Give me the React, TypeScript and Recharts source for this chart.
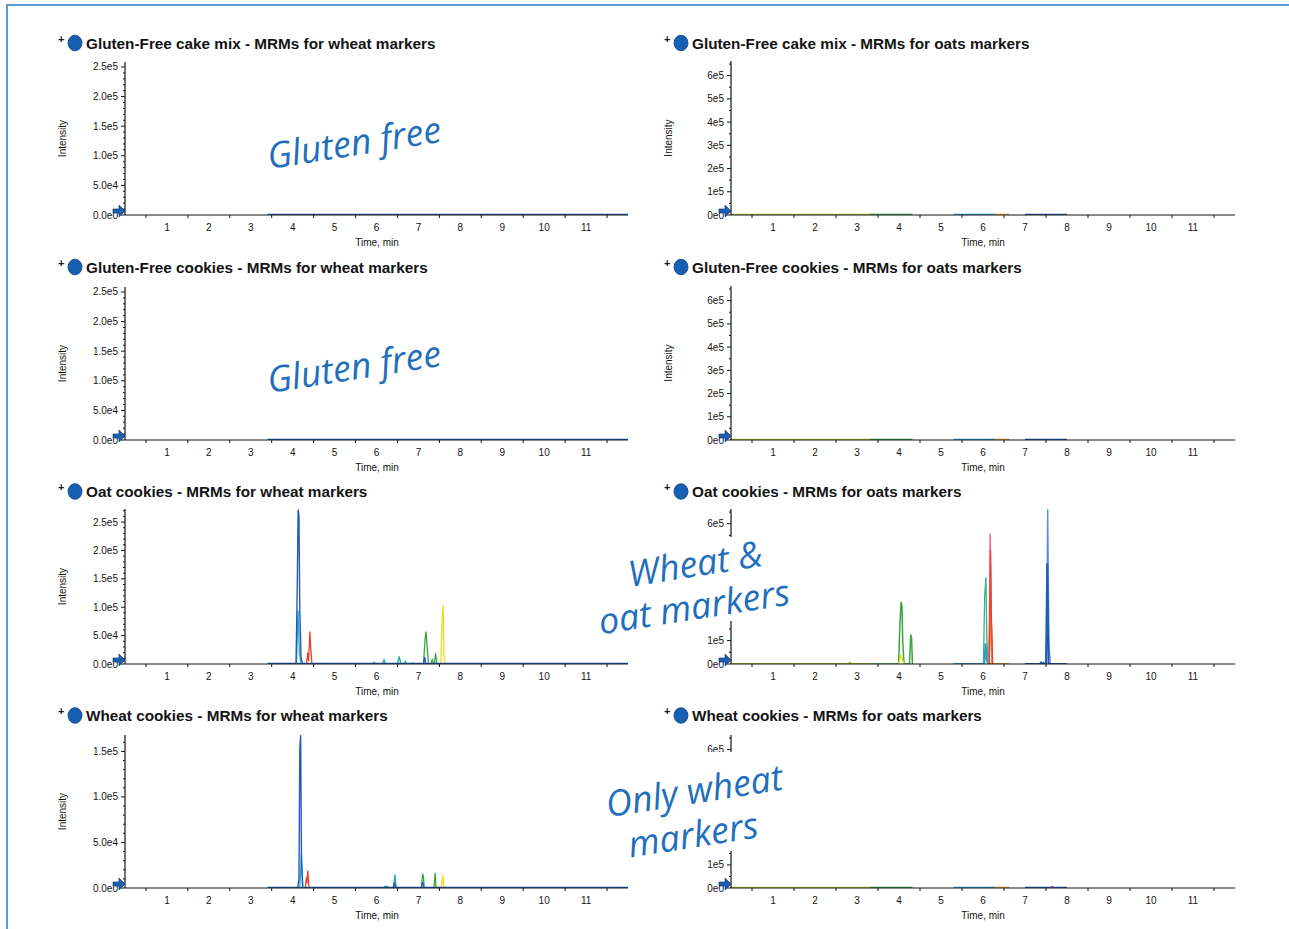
import React from 'react';
import { LineChart, Line, XAxis, YAxis } from 'recharts';

// ---------------- axis ticks & labels ----------------
const TIME_TICKS = [0.5, 1, 1.5, 2, 2.5, 3, 3.5, 4, 4.5, 5, 5.5, 6, 6.5, 7, 7.5, 8, 8.5, 9, 9.5, 10, 10.5, 11, 11.5];
const TIME_LABELS = [1, 2, 3, 4, 5, 6, 7, 8, 9, 10, 11];
const WHEAT_Y_TICKS = [0, 50000, 100000, 150000, 200000, 250000];
const WHEAT_Y_LABELS = ['0.0e0', '5.0e4', '1.0e5', '1.5e5', '2.0e5', '2.5e5'];
const WHEAT_COOKIE_Y_TICKS = [0, 50000, 100000, 150000];
const WHEAT_COOKIE_Y_LABELS = ['0.0e0', '5.0e4', '1.0e5', '1.5e5'];
const OATS_Y_TICKS = [0, 100000, 200000, 300000, 400000, 500000, 600000];
const OATS_Y_LABELS = ['0e0', '1e5', '2e5', '3e5', '4e5', '5e5', '6e5'];

// ---------------- traces: [time (min), intensity] ----------------
const WHEAT_BASELINE = [[3.4, 0], [12, 0]];

const OATS_BASE_LIME = [[0, 0], [3.3, 0]];
const OATS_BASE_GREEN = [[3.3, 0], [4.32, 0]];
const OATS_BASE_SKY = [[5.3, 0], [6.3, 0]];
const OATS_BASE_ORANGE = [[6.3, 0], [6.62, 0]];
const OATS_BASE_BLUE = [[7.0, 0], [8.0, 0]];

// Oat cookies - wheat markers
const E_BLUE_MAIN = [[4.08, 0], [4.11, 138000], [4.13, 272000], [4.15, 262000], [4.17, 96000], [4.2, 10000], [4.24, 0]];
const E_CYAN = [[4.09, 0], [4.13, 94000], [4.16, 20000], [4.2, 0]];
const E_RED = [[4.33, 0], [4.36, 20000], [4.38, 5000], [4.41, 57000], [4.43, 30000], [4.46, 0]];
const E_TEAL = [[5.9, 0], [5.94, 3000], [5.98, 0], [6.14, 0], [6.18, 7600], [6.22, 0], [6.5, 0], [6.54, 13500], [6.58, 0], [6.66, 0], [6.69, 4700], [6.73, 0], [6.84, 0], [6.87, 2000], [6.9, 0]];
const E_GREEN = [[7.12, 0], [7.16, 44000], [7.18, 57000], [7.21, 30000], [7.24, 0], [7.3, 0], [7.33, 8800], [7.36, 0], [7.38, 0], [7.41, 19000], [7.44, 0]];
const E_BLUE_SMALL = [[7.12, 0], [7.15, 12000], [7.18, 0]];
const E_YELLOW = [[7.53, 0], [7.57, 85000], [7.59, 104000], [7.61, 10000], [7.64, 0]];

// Oat cookies - oats markers
const F_LIME = [[0, 0], [2.79, 0], [2.83, 6000], [2.87, 0], [3.3, 0]];
const F_GREEN = [[3.3, 0], [3.99, 0], [4.02, 160000], [4.04, 232000], [4.05, 266000], [4.07, 250000], [4.09, 90000], [4.12, 0], [4.25, 0], [4.28, 126000], [4.3, 110000], [4.32, 0]];
const F_YELLOW = [[3.99, 0], [4.04, 36000], [4.08, 20000], [4.12, 0]];
const F_SKY = [[5.3, 0], [6.03, 0], [6.06, 88000], [6.09, 20000], [6.12, 0], [6.3, 0]];
const F_TEALGREEN = [[6.01, 0], [6.04, 290000], [6.07, 371000], [6.09, 120000], [6.12, 0]];
const F_ORANGE = [[6.14, 0], [6.18, 270000], [6.22, 0], [6.3, 0], [6.62, 0]];
const F_RED = [[6.15, 0], [6.18, 486000], [6.2, 180000], [6.23, 0]];
const F_PINK = [[6.14, 0], [6.17, 558000], [6.19, 300000], [6.22, 0]];
const F_BLUE = [[7.0, 0], [7.35, 0], [7.38, 6000], [7.41, 0], [7.44, 5000], [7.47, 0], [7.5, 0], [7.53, 431000], [7.56, 0], [8.0, 0]];
const F_STEEL = [[7.51, 0], [7.54, 662000], [7.57, 95000], [7.6, 0]];

// Wheat cookies - wheat markers
const G_BLUE_MAIN = [[4.12, 0], [4.15, 10000], [4.17, 151000], [4.19, 168000], [4.21, 30000], [4.24, 0]];
const G_CYAN = [[4.17, 0], [4.21, 38000], [4.24, 0]];
const G_RED = [[4.3, 0], [4.33, 12000], [4.34, 5000], [4.36, 19300], [4.39, 0]];
const G_TEAL = [[6.18, 0], [6.2, 1800], [6.26, 1800], [6.28, 0], [6.4, 0], [6.44, 14600], [6.47, 0]];
const G_BLUE_SMALL = [[6.4, 0], [6.43, 5800], [6.46, 0], [7.06, 0], [7.1, 6600], [7.13, 0]];
const G_GREEN = [[7.07, 0], [7.1, 15700], [7.12, 12000], [7.14, 0], [7.37, 0], [7.4, 16800], [7.42, 0]];
const G_YELLOW = [[7.55, 0], [7.58, 13900], [7.61, 0]];

// Wheat cookies - oats markers
const H_PURPLE = [[7.6, 0], [7.65, 7000], [7.7, 0]];

// ---------------- styling ----------------
const COLORS = {
  blue: '#1f5cb8', steel: '#5b8fd4', cyan: '#2aa8d0', teal: '#1faea0', green: '#37a840',
  tealGreen: '#3bb07e', red: '#e8412c', pink: '#ee5f8c', orange: '#f4a12a', yellow: '#f0dc16',
  lime: '#a9c92a', sky: '#2a9ad8', purple: '#7b4fb0',
};
const FONT = "'Liberation Sans', Arial, sans-serif";
const INK = '#141414';

type Trace = { data: number[][]; color: string; w: number };

const oatsBases: Trace[] = [
  { data: OATS_BASE_LIME, color: COLORS.lime, w: 2.6 },
  { data: OATS_BASE_GREEN, color: COLORS.green, w: 2.6 },
  { data: OATS_BASE_SKY, color: COLORS.sky, w: 2.6 },
  { data: OATS_BASE_ORANGE, color: COLORS.orange, w: 2.6 },
  { data: OATS_BASE_BLUE, color: COLORS.blue, w: 2.6 },
];
const wheatBase: Trace = { data: WHEAT_BASELINE, color: COLORS.blue, w: 2.6 };

type Panel = {
  title: string; col: number; row: number; yMax: number;
  yTicks: number[]; yLabels: string[]; minorStep: number; traces: Trace[];
};

const PANELS: Panel[] = [
  { title: 'Gluten-Free cake mix - MRMs for wheat markers', col: 0, row: 0, yMax: 258400, yTicks: WHEAT_Y_TICKS, yLabels: WHEAT_Y_LABELS, minorStep: 10000, traces: [wheatBase] },
  { title: 'Gluten-Free cake mix - MRMs for oats markers', col: 1, row: 0, yMax: 663000, yTicks: OATS_Y_TICKS, yLabels: OATS_Y_LABELS, minorStep: 50000, traces: oatsBases },
  { title: 'Gluten-Free cookies - MRMs for wheat markers', col: 0, row: 1, yMax: 258400, yTicks: WHEAT_Y_TICKS, yLabels: WHEAT_Y_LABELS, minorStep: 10000, traces: [wheatBase] },
  { title: 'Gluten-Free cookies - MRMs for oats markers', col: 1, row: 1, yMax: 663000, yTicks: OATS_Y_TICKS, yLabels: OATS_Y_LABELS, minorStep: 50000, traces: oatsBases },
  {
    title: 'Oat cookies - MRMs for wheat markers', col: 0, row: 2, yMax: 273000, yTicks: WHEAT_Y_TICKS, yLabels: WHEAT_Y_LABELS, minorStep: 10000,
    traces: [
      { data: E_TEAL, color: COLORS.teal, w: 1.3 },
      { data: E_GREEN, color: COLORS.green, w: 1.3 },
      { data: E_YELLOW, color: COLORS.yellow, w: 1.3 },
      { data: E_RED, color: COLORS.red, w: 1.3 },
      wheatBase,
      { data: E_BLUE_SMALL, color: COLORS.blue, w: 1.3 },
      { data: E_CYAN, color: COLORS.cyan, w: 1.3 },
      { data: E_BLUE_MAIN, color: COLORS.blue, w: 1.4 },
    ],
  },
  {
    title: 'Oat cookies - MRMs for oats markers', col: 1, row: 2, yMax: 663000, yTicks: OATS_Y_TICKS, yLabels: OATS_Y_LABELS, minorStep: 50000,
    traces: [
      { data: F_LIME, color: COLORS.lime, w: 2.2 },
      { data: F_GREEN, color: COLORS.green, w: 1.5 },
      { data: F_YELLOW, color: COLORS.yellow, w: 1.3 },
      { data: F_SKY, color: COLORS.sky, w: 2 },
      { data: F_TEALGREEN, color: COLORS.tealGreen, w: 1.3 },
      { data: F_ORANGE, color: COLORS.orange, w: 2 },
      { data: F_PINK, color: COLORS.pink, w: 1.3 },
      { data: F_RED, color: COLORS.red, w: 1.3 },
      { data: F_STEEL, color: COLORS.steel, w: 1.4 },
      { data: F_BLUE, color: COLORS.blue, w: 2 },
    ],
  },
  {
    title: 'Wheat cookies - MRMs for wheat markers', col: 0, row: 3, yMax: 168000, yTicks: WHEAT_COOKIE_Y_TICKS, yLabels: WHEAT_COOKIE_Y_LABELS, minorStep: 10000,
    traces: [
      { data: G_TEAL, color: COLORS.teal, w: 1.3 },
      { data: G_GREEN, color: COLORS.green, w: 1.3 },
      { data: G_YELLOW, color: COLORS.yellow, w: 1.3 },
      { data: G_RED, color: COLORS.red, w: 1.3 },
      wheatBase,
      { data: G_BLUE_SMALL, color: COLORS.blue, w: 1.3 },
      { data: G_CYAN, color: COLORS.cyan, w: 1.3 },
      { data: G_BLUE_MAIN, color: COLORS.blue, w: 1.4 },
    ],
  },
  {
    title: 'Wheat cookies - MRMs for oats markers', col: 1, row: 3, yMax: 663000, yTicks: OATS_Y_TICKS, yLabels: OATS_Y_LABELS, minorStep: 50000,
    traces: [...oatsBases, { data: H_PURPLE, color: COLORS.purple, w: 1.3 }],
  },
];

// ---------------- layout ----------------
const AXIS_X = [125, 731];
const PLOT_W = [503, 504];
const PLOT_ROWS = [
  [[62, 215], [287, 440], [509, 664], [735, 888]],
  [[61, 215], [286, 440], [509, 664], [735, 888]],
];
const TITLE_BASE = [48.5, 272.5, 497, 721];
const TITLE_X = [86, 692];
const Y_AXIS_W = 70;
const X_AXIS_H = 40;

const minorTicks = (step: number, max: number) => {
  const out: number[] = [];
  for (let k = 0; k * step <= max; k++) out.push(k * step);
  return out;
};

const toPoints = (arr: number[][]) => arr.map(([t, v]) => ({ t, v }));

const XTick = (props: any) => {
  const { x, y, payload } = props;
  const v = payload.value;
  const major = TIME_LABELS.includes(v);
  return (
    <g>
      {!major && <line x1={x} x2={x} y1={y} y2={y + 3} stroke={INK} strokeWidth={1} />}
      {major && (
        <text x={x} y={y + 15.5} textAnchor="middle" fontSize={10} fontFamily={FONT} fill={INK}>{v}</text>
      )}
    </g>
  );
};

const makeYTick = (majors: number[], labels: string[]) => (props: any) => {
  const { x, y, payload } = props;
  const idx = majors.indexOf(payload.value);
  const major = idx >= 0;
  return (
    <g>
      <line x1={x - (major ? 4 : 2)} x2={x} y1={y} y2={y} stroke={INK} strokeWidth={1} />
      {major && (
        <text x={x - 7} y={y + 3.5} textAnchor="end" fontSize={10} fontFamily={FONT} fill={INK}>{labels[idx]}</text>
      )}
    </g>
  );
};

function ChartPanel({ p }: { p: Panel }) {
  const axisX = AXIS_X[p.col];
  const plotW = PLOT_W[p.col];
  const [top, bottom] = PLOT_ROWS[p.col][p.row];
  const w = Y_AXIS_W + plotW;
  const h = bottom - top + X_AXIS_H;
  const yTicks = minorTicks(p.minorStep, p.yMax);
  return (
    <div style={{ position: 'absolute', left: axisX - Y_AXIS_W, top, width: w, height: h }}>
      <LineChart width={w} height={h} margin={{ top: 0, right: 0, bottom: 0, left: 0 }}>
        <XAxis
          dataKey="t" type="number" domain={[0, 12]} ticks={TIME_TICKS} interval={0}
          tickSize={0} tickMargin={0} tickLine={false} tick={(tp: any) => <XTick {...tp} />}
          axisLine={{ stroke: INK, strokeWidth: 1.2 }} height={X_AXIS_H} allowDataOverflow
        />
        <YAxis
          type="number" domain={[0, p.yMax]} ticks={yTicks} interval={0} width={Y_AXIS_W}
          tickSize={0} tickMargin={0} tickLine={false} tick={makeYTick(p.yTicks, p.yLabels)}
          axisLine={{ stroke: INK, strokeWidth: 1.2 }} allowDataOverflow
        />
        {p.traces.map((tr, i) => (
          <Line
            key={i} data={toPoints(tr.data)} dataKey="v" type="linear" stroke={tr.color}
            strokeWidth={tr.w} dot={false} activeDot={false} isAnimationActive={false}
          />
        ))}
      </LineChart>
    </div>
  );
}

const ANNOTATION_COLOR = '#1f6fbd';
const HAND = "'Open Sans', 'DejaVu Sans', sans-serif";

function Overlay() {
  return (
    <svg width={1289} height={929} style={{ position: 'absolute', left: 0, top: 0, pointerEvents: 'none' }}>
      <line x1={7} y1={5} x2={7} y2={929} stroke="#5b9bd5" strokeWidth={2} />
      <line x1={6} y1={5} x2={1289} y2={5} stroke="#5b9bd5" strokeWidth={2} />
      {PANELS.map((p, i) => {
        const x0 = TITLE_X[p.col];
        const by = TITLE_BASE[p.row];
        const axisX = AXIS_X[p.col];
        const [top, bottom] = PLOT_ROWS[p.col][p.row];
        const mid = (top + bottom) / 2;
        return (
          <g key={i}>
            <text x={x0 - 28} y={by - 6} fontSize={11} fontWeight="bold" fontFamily={FONT} fill={INK}>+</text>
            <ellipse cx={x0 - 11} cy={by - 5.5} rx={7} ry={7.8} fill="#1660b4" stroke="#0c3d7a" strokeWidth={0.8} />
            <text x={x0} y={by} fontSize={15.3} fontWeight="bold" fontFamily={FONT} fill={INK}>{p.title}</text>
            <text x={axisX - 63} y={mid} fontSize={10} fontFamily={FONT} fill={INK} textAnchor="middle"
              transform={`rotate(-90 ${axisX - 63} ${mid})`} dy={3.5}>Intensity</text>
            <text x={axisX + 252} y={bottom + 30.5} fontSize={10} fontFamily={FONT} fill={INK} textAnchor="middle">Time, min</text>
            <path
              d={`M ${axisX - 12} ${bottom - 6} L ${axisX - 6} ${bottom - 6} L ${axisX - 6} ${bottom - 10} L ${axisX} ${bottom - 4} L ${axisX - 6} ${bottom + 2} L ${axisX - 6} ${bottom - 2} L ${axisX - 12} ${bottom - 2} Z`}
              fill="#1a5fb4" stroke="#0a2a5a" strokeWidth={0.6}
            />
          </g>
        );
      })}
      <rect x={588} y={537} width={210} height={84} fill="#fff" />
      <rect x={588} y={752} width={210} height={99} fill="#fff" />
      <g fill={ANNOTATION_COLOR} fontFamily={HAND} fontStyle="italic" fontSize={36} textAnchor="middle">
        <text x={354} y={142} dominantBaseline="central" transform="rotate(-9 354 142)">Gluten free</text>
        <text x={354} y={366} dominantBaseline="central" transform="rotate(-9 354 366)">Gluten free</text>
        <text x={695} y={563} dominantBaseline="central" transform="rotate(-9 695 563)">Wheat &amp;</text>
        <text x={694} y={606} dominantBaseline="central" transform="rotate(-9 694 606)">oat markers</text>
        <text x={694} y={790} dominantBaseline="central" transform="rotate(-9 694 790)">Only wheat</text>
        <text x={693} y={834} dominantBaseline="central" transform="rotate(-9 693 834)">markers</text>
      </g>
    </svg>
  );
}

export default function App() {
  return (
    <div style={{ position: 'absolute', left: 0, top: 0, width: 1289, height: 929, background: '#fff', overflow: 'hidden' }}>
      {PANELS.map((p, i) => <ChartPanel key={i} p={p} />)}
      <Overlay />
    </div>
  );
}
